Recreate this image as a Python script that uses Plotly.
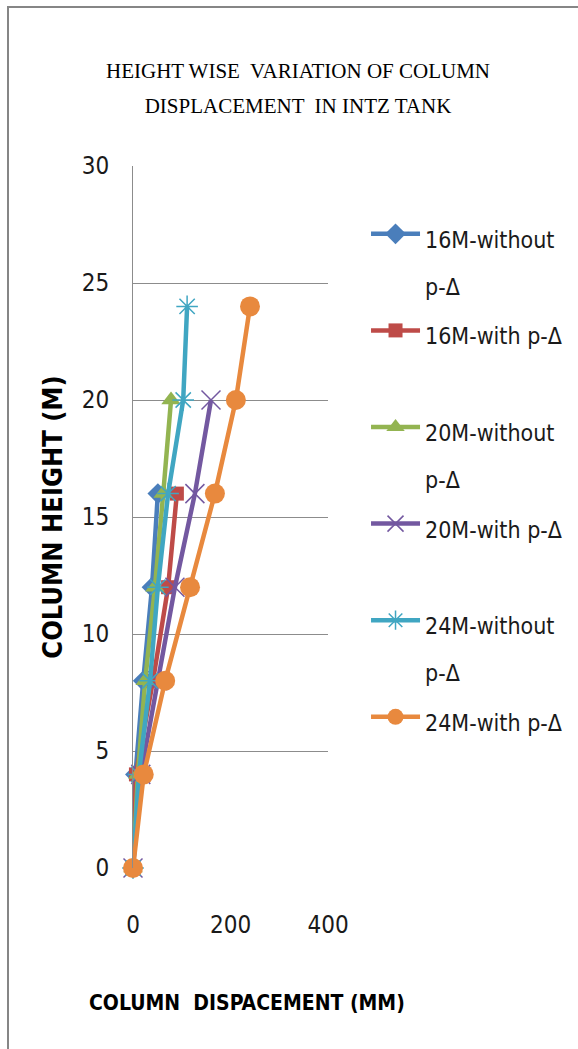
import plotly.graph_objects as go

# ---- data ----
heights_16 = [0, 4, 8, 12, 16]
heights_20 = [0, 4, 8, 12, 16, 20]
heights_24 = [0, 4, 8, 12, 16, 20, 24]

disp_16_without = [0, 5, 21, 39, 51]
disp_16_with = [0, 6, 41, 72, 90]
disp_20_without = [0, 10, 25, 45, 62, 78]
disp_20_with = [0, 16, 51, 86, 127, 160]
disp_24_without = [0, 12, 35, 51, 72, 103, 111]
disp_24_with = [0, 22, 66, 117, 168, 211, 240]

series_names = ["16M-without<br>p-Δ", "16M-with p-Δ", "20M-without<br>p-Δ",
                "20M-with p-Δ", "24M-without<br>p-Δ", "24M-with p-Δ"]

x_ticks = [0, 200, 400]
y_ticks = [0, 5, 10, 15, 20, 25, 30]

SANS = "DejaVu Sans Condensed, Liberation Sans Narrow, Arial Narrow, sans-serif"

def lg(name):
    lines = name.split("<br>")
    if len(lines) == 1:
        lines.append("&nbsp;")
    return "<br>".join(f"<span style='font-size:23px'>{l}</span>" for l in lines)

styles = [
    dict(color="#4A7EBB", symbol="diamond", size=16, mline=None),
    dict(color="#BE4B48", symbol="square", size=14, mline=None),
    dict(color="#93B451", symbol="triangle-up", size=17, mline=None),
    dict(color="#7358A0", symbol="x-thin-open", size=19, mline="#A994C8"),
    dict(color="#40A6C2", symbol="asterisk-open", size=18, mline="#86CDE0"),
    dict(color="#E8893E", symbol="circle", size=20, mline=None),
]

xs = [disp_16_without, disp_16_with, disp_20_without, disp_20_with, disp_24_without, disp_24_with]
ys = [heights_16, heights_16, heights_20, heights_20, heights_24, heights_24]

fig = go.Figure()
for i, (x, y, st, nm) in enumerate(zip(xs, ys, styles, series_names)):
    marker = dict(symbol=st["symbol"], size=st["size"], color=st["color"])
    if st["mline"]:
        marker["line"] = dict(color=st["mline"], width=1.5)
    else:
        marker["line"] = dict(width=0)
    fig.add_trace(go.Scatter(
        x=x, y=y, mode="lines+markers", name=lg(nm),
        line=dict(color=st["color"], width=4.5),
        marker=marker, cliponaxis=False, legendgroup=f"g{i}",
    ))

fig.update_layout(
    width=578, height=1049,
    margin=dict(l=133, r=250, t=166, b=181, autoexpand=False),
    paper_bgcolor="white", plot_bgcolor="white",
    showlegend=True,
    title=dict(
        text="<span style='font-size:21px'>HEIGHT WISE  VARIATION OF COLUMN</span><br>"
             "<span style='font-size:21px'>DISPLACEMENT  IN INTZ TANK</span>",
        font=dict(family="Liberation Serif, Times New Roman, serif", size=27, color="black"),
        x=0.5156, xref="container", xanchor="center",
        y=1 - 78 / 1049, yref="container", yanchor="top",
    ),
    legend=dict(
        x=1.195, xanchor="left", y=0.946, yanchor="top",
        font=dict(family=SANS, size=36, color="#1a1a1a"),
        itemwidth=49, valign="top", tracegroupgap=0,
        bgcolor="rgba(0,0,0,0)",
    ),
    xaxis=dict(
        range=[0, 400], tickvals=x_ticks, showgrid=False, zeroline=False,
        showline=False, ticks="", ticklabelstandoff=40,
        tickfont=dict(family=SANS, size=24, color="#1a1a1a"),
    ),
    yaxis=dict(
        range=[0, 30], tickvals=y_ticks, showgrid=True, gridcolor="#8C8C8C", gridwidth=1,
        zeroline=False, showline=True, linecolor="#8C8C8C", linewidth=1, ticks="",
        ticklabelstandoff=18,
        tickfont=dict(family=SANS, size=24, color="#1a1a1a"),
        title=dict(text="<b>COLUMN HEIGHT (M)</b>",
                   font=dict(family=SANS, size=27, color="black"), standoff=11),
    ),
    annotations=[dict(
        text="<b>COLUMN  DISPACEMENT (MM)</b>", xref="paper", yref="paper",
        x=(247 - 133) / 195, y=(868 - 1003) / 702, xanchor="center", yanchor="middle",
        showarrow=False, font=dict(family=SANS, size=21, color="black"),
    )],
    shapes=[dict(type="rect", xref="paper", yref="paper",
                 x0=(8 - 133) / 195, x1=(590 - 133) / 195,
                 y0=(868 - 1060) / 702, y1=(868 - 7) / 702,
                 line=dict(color="#868686", width=2), layer="below")],
)

fig.write_html("out.html")
